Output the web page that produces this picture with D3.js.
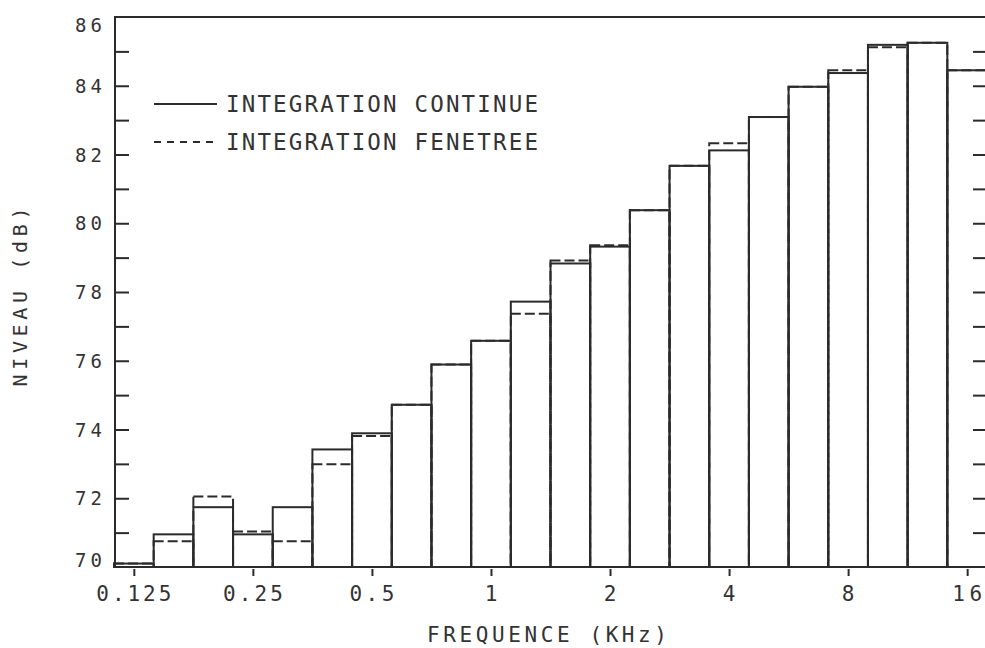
<!DOCTYPE html>
<html>
<head>
<meta charset="utf-8">
<script src="https://cdn.jsdelivr.net/npm/d3@7"></script>
<style>
  html, body { margin: 0; padding: 0; background: #fff; }
  svg { display: block; }
  text { font-family: "DejaVu Sans Mono", "Liberation Mono", monospace; fill: #333; }
</style>
</head>
<body>
<svg id="chart" width="985" height="648"></svg>
<script>
// ---- data ----
const bands = ["0.125","0.16","0.2","0.25","0.315","0.4","0.5","0.63","0.8","1","1.25","1.6","2","2.5","3.15","4","5","6.3","8","10","12.5","16"];
const integrationContinue = [70.1, 70.95, 71.74, 70.95, 71.74, 73.42, 73.89, 74.72, 75.89, 76.58, 77.72, 78.83, 79.32, 80.38, 81.67, 82.12, 83.09, 83.97, 84.37, 85.19, 85.25, 84.45];
const integrationFenetree = [70.1, 70.75, 72.05, 71.03, 70.75, 72.99, 73.81, 74.72, 75.89, 76.58, 77.37, 78.92, 79.36, 80.38, 81.67, 82.33, 83.09, 83.97, 84.45, 85.12, 85.25, 84.45];
const xTickValues = [0.125, 0.25, 0.5, 1, 2, 4, 8, 16];
const xTickLabels = ["0.125", "0.25", "0.5", "1", "2", "4", "8", "16"];
const yMajorTicks = [70, 72, 74, 76, 78, 80, 82, 84, 86];
const yMinorTicks = [71, 72, 73, 74, 75, 76, 77, 78, 79, 80, 81, 82, 83, 84, 85];
const legendLabels = ["INTEGRATION CONTINUE", "INTEGRATION FENETREE"];
const xTitle = "FREQUENCE (KHz)";
const yTitle = "NIVEAU (dB)";

(function () {
// ---- layout ----
const mL = 115, mR = 987, mT = 17, mB = 567;
const ink = "#2b2b2b";
const svg = d3.select("#chart");

const xBand = d3.scaleBand().domain(bands).range([mL - 1, mR]).padding(0);
const bw = xBand.bandwidth();
const xLog = d3.scaleLog().domain([0.125, 16]).range([xBand("0.125") + bw / 2, xBand("16") + bw / 2]);
const y = d3.scaleLinear().domain([70, 86]).range([mB, mT]);

// solid bars
svg.append("g").selectAll("rect").data(bands).join("rect")
  .attr("x", d => xBand(d))
  .attr("y", (d, i) => y(integrationContinue[i]))
  .attr("width", bw)
  .attr("height", (d, i) => y(70) - y(integrationContinue[i]))
  .attr("fill", "none").attr("stroke", ink).attr("stroke-width", 2);

// dashed bars
svg.append("g").selectAll("rect").data(bands).join("rect")
  .attr("x", d => xBand(d))
  .attr("y", (d, i) => y(integrationFenetree[i]))
  .attr("width", bw)
  .attr("height", (d, i) => y(70) - y(integrationFenetree[i]))
  .attr("fill", "none").attr("stroke", ink).attr("stroke-width", 2)
  .attr("stroke-dasharray", "10,4");

// frame
svg.append("rect").attr("x", mL).attr("y", mT)
  .attr("width", mR - mL).attr("height", mB - mT)
  .attr("fill", "none").attr("stroke", ink).attr("stroke-width", 2);

// left axis minor ticks (inward)
const gL = svg.append("g").attr("transform", `translate(${mL},0)`)
  .call(d3.axisRight(y).tickValues(yMinorTicks).tickSize(14).tickFormat(""));
gL.select(".domain").remove();
gL.selectAll("line").attr("stroke", ink).attr("stroke-width", 2);

// right axis ticks (inward)
const gR = svg.append("g").attr("transform", `translate(${mR},0)`)
  .call(d3.axisLeft(y).tickValues(yMinorTicks).tickSize(14).tickFormat(""));
gR.select(".domain").remove();
gR.selectAll("line").attr("stroke", ink).attr("stroke-width", 2);

// bottom ticks (outward)
const gB = svg.append("g").attr("transform", `translate(0,${mB + 2})`)
  .call(d3.axisBottom(xLog).tickValues(xTickValues).tickSize(7).tickFormat(""));
gB.select(".domain").remove();
gB.selectAll("line").attr("stroke", ink).attr("stroke-width", 2);

// y labels
svg.append("g").selectAll("text").data(yMajorTicks).join("text")
  .attr("x", 102)
  .attr("y", d => Math.min(Math.max(y(d), mT + 7.5), mB - 7.5) + 7)
  .attr("text-anchor", "end")
  .attr("font-size", 19)
  .attr("textLength", d => String(d).length * 13.5)
  .attr("lengthAdjust", "spacing")
  .text(d => d);

// x labels
svg.append("g").selectAll("text").data(xTickValues).join("text")
  .attr("x", d => xLog(d))
  .attr("y", 601)
  .attr("text-anchor", "middle")
  .attr("font-size", 21)
  .attr("textLength", (d, i) => xTickLabels[i].length * 15)
  .attr("lengthAdjust", "spacing")
  .text((d, i) => xTickLabels[i]);

// axis titles
svg.append("text").attr("x", 547).attr("y", 642)
  .attr("text-anchor", "middle").attr("font-size", 21)
  .attr("textLength", 240).attr("lengthAdjust", "spacing")
  .text(xTitle);
svg.append("text").attr("transform", "translate(27,297) rotate(-90)")
  .attr("text-anchor", "middle").attr("font-size", 20)
  .attr("textLength", 179).attr("lengthAdjust", "spacing")
  .text(yTitle);

// legend
const legendY = [104, 142];
const leg = svg.append("g");
leg.selectAll("line").data(legendLabels).join("line")
  .attr("x1", 154).attr("x2", 217)
  .attr("y1", (d, i) => legendY[i]).attr("y2", (d, i) => legendY[i])
  .attr("stroke", ink).attr("stroke-width", 2)
  .attr("stroke-dasharray", (d, i) => i === 0 ? null : "7,6");
leg.selectAll("text").data(legendLabels).join("text")
  .attr("x", 226).attr("y", (d, i) => legendY[i] + 8)
  .attr("font-size", 22.5)
  .attr("textLength", 312).attr("lengthAdjust", "spacing")
  .text(d => d);
})();
</script>
</body>
</html>
